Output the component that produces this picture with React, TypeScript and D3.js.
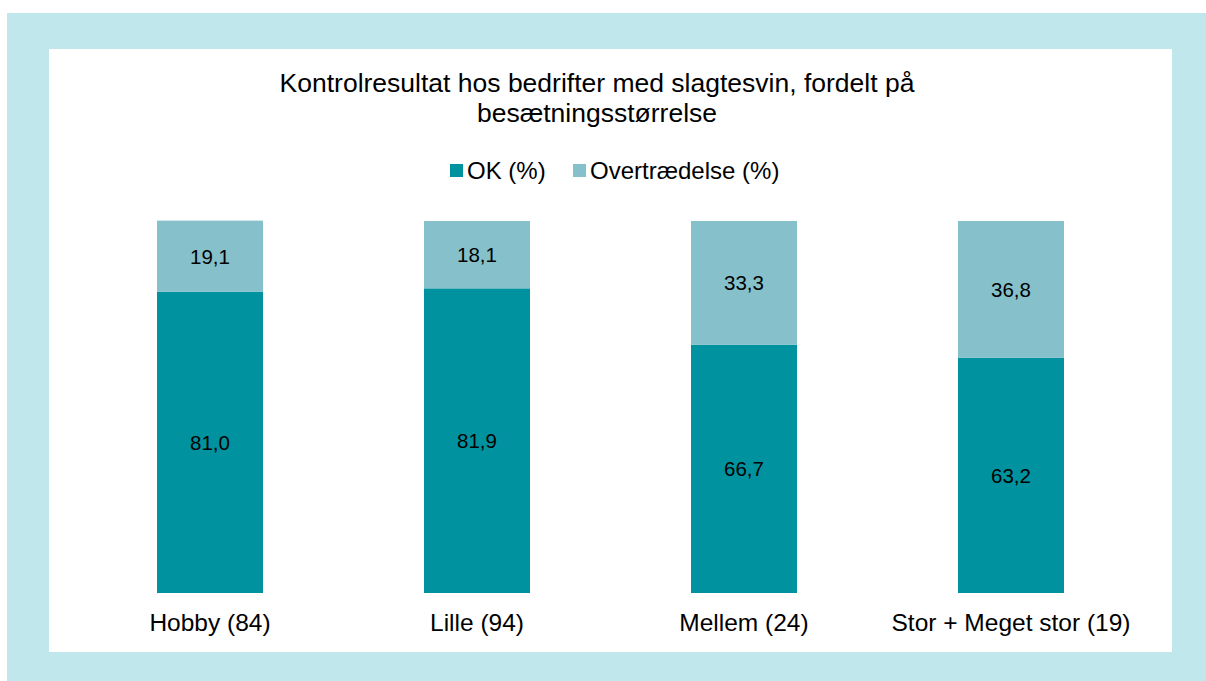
import React from "react";
import * as d3 from "d3";

const categories = ["Hobby (84)", "Lille (94)", "Mellem (24)", "Stor + Meget stor (19)"];
const okValues = [81.0, 81.9, 66.7, 63.2];
const violationValues = [19.1, 18.1, 33.3, 36.8];
const seriesNames = ["OK (%)", "Overtrædelse (%)"];
const titleLines = ["Kontrolresultat hos bedrifter med slagtesvin, fordelt på", "besætningsstørrelse"];

const COLORS = ["#00939F", "#86C1CB"];
const FONT = "Arial, 'Liberation Sans', sans-serif";

export default function App() {
  const W = 1206, H = 681;
  const x = d3.scaleBand<string>().domain(categories).range([76.5, 1144.5]).paddingInner(0.603).paddingOuter(0.3015);
  const y = d3.scaleLinear().domain([0, 100]).range([593, 221]);
  const fmt = (v: number) => v.toFixed(1).replace(".", ",");

  const rows = categories.map((c, i) => ({ cat: c, ok: okValues[i], vio: violationValues[i] }));
  const stack = d3.stack<any>().keys(["ok", "vio"])(rows);

  return (
    <svg width={W} height={H} style={{ position: "absolute", left: 0, top: 0 }} fontFamily={FONT}>
      <rect x={7} y={13} width={W - 7} height={H - 13} fill="#C0E8EC" />
      <rect x={49} y={49} width={1123} height={603} fill="#FFFFFF" />
      {titleLines.map((t, i) => (
        <text key={i} x={597} y={92 + i * 30} textAnchor="middle" fontSize={26.5} fill="#000">{t}</text>
      ))}
      {/* legend */}
      <g>
        <rect x={450} y={164} width={13} height={13} fill={COLORS[0]} />
        <text x={467} y={179} fontSize={24} fill="#000">{seriesNames[0]}</text>
        <rect x={573} y={164} width={13} height={13} fill={COLORS[1]} />
        <text x={590} y={179} fontSize={24} fill="#000">{seriesNames[1]}</text>
      </g>
      {stack.map((s, si) => (
        <g key={si}>
          {s.map((d, i) => {
            const x0 = x(categories[i])!;
            const y0 = y(d[1]);
            const y1 = y(d[0]);
            return (
              <g key={i}>
                <rect x={x0} y={y0} width={x.bandwidth()} height={y1 - y0} fill={COLORS[si]} />
                <text x={x0 + x.bandwidth() / 2} y={(y0 + y1) / 2} dy="0.36em" textAnchor="middle" fontSize={20.5} fill="#000">
                  {fmt(d[1] - d[0])}
                </text>
              </g>
            );
          })}
        </g>
      ))}
      {categories.map((c) => (
        <text key={c} x={x(c)! + x.bandwidth() / 2} y={631} textAnchor="middle" fontSize={24.5} fill="#000">{c}</text>
      ))}
    </svg>
  );
}
